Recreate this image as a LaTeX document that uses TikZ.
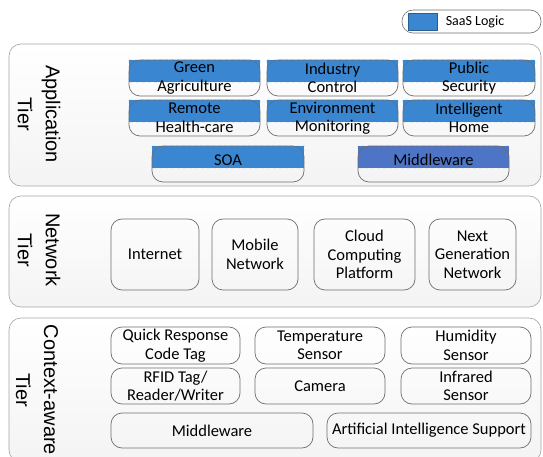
\documentclass[tikz,border=0pt]{standalone}
\usepackage{fontspec}
\setmainfont{Carlito}
\newfontfamily\tierfont{Liberation Sans}
\usepackage{tikz}
\usetikzlibrary{positioning}
\usetikzlibrary{backgrounds}
\definecolor{saasblue}{RGB}{58,134,208}
\definecolor{mwblue}{RGB}{78,116,198}
\definecolor{boxgray}{RGB}{110,110,110}
\definecolor{tiergray}{RGB}{165,165,165}

\begin{document}
\begin{tikzpicture}[x=1pt, y=-1pt, thick,
    tier/.style = {draw=tiergray, semithick, rounded corners=12pt, minimum width=532pt, top color=white, bottom color=gray!9},
    tierlabel/.style = {rotate=-90, align=center, font=\tierfont\fontsize{20}{28}\selectfont},
    cellfont/.style = {font=\fontsize{16.5}{18.5}\selectfont},
    cell/.style = {draw=boxgray, line width=0.7pt, rounded corners=11pt, align=center, inner sep=1pt, cellfont},
    saasfill/.style = {fill=saasblue, draw=white!85!saasblue, dashed, semithick}]
            \clip (0,0) rectangle (543,457);
            % Tiers
            \begin{scope}[on background layer]
            \node[tier, minimum height=142pt] (app) at (275,115) {};
            \node[tier, minimum height=111pt] (net) at (275,251.5) {};
            \node[tier, minimum height=144pt] (ctx) at (275,390) {};
            \end{scope}
            \node[tierlabel] (applbl) at (39,114) {Application\\Tier};
            \node[tierlabel] (netlbl) at (39,250) {Network\\Tier};
            \node[tierlabel] (ctxlbl) at (37,390) {Context-aware\\Tier};
            % Legend
            \node[draw=boxgray, semithick, rounded corners=11pt, minimum width=139pt, minimum height=23pt] (legend) at (471.5,21.5) {};
            \node[draw=saasblue!70!black, fill=saasblue, minimum width=29pt, minimum height=17pt, inner sep=0pt] (key) at (422.5,21.5) {};
            \node[font=\fontsize{14}{16}\selectfont, inner sep=0pt, right=8pt of key] (keytxt) {SaaS Logic};
            % Application tier
            \node[cell, minimum width=131pt, minimum height=36pt] (green) at (194.5,78) {Green\\Agriculture};
            \node[cell, minimum width=131pt, minimum height=36pt] (industry) at (332.5,78) {Industry\\Control};
            \node[cell, minimum width=132pt, minimum height=36pt] (public) at (469,78) {Public\\Security};
            \node[cell, minimum width=131pt, minimum height=36pt] (remote) at (194.5,118) {Remote\\Health-care};
            \node[cell, minimum width=131pt, minimum height=36pt] (environ) at (332.5,118) {Environment\\Monitoring};
            \node[cell, minimum width=132pt, minimum height=36pt] (intel) at (469,118) {Intelligent\\Home};
            \node[cell, minimum width=152pt, minimum height=36pt, label={[cellfont, yshift=4pt]center:SOA}] (soa) at (228,164) {};
            \node[cell, minimum width=151pt, minimum height=36pt, label={[cellfont, yshift=4pt]center:Middleware}] (appmw) at (433.5,164) {};
            \begin{scope}[on background layer]
            \foreach \c in {green,industry,public,remote,environ,intel,soa}
                \draw[saasfill] (\c.north west) rectangle ([yshift=-4.5pt]\c.east);
            \draw[saasfill, fill=mwblue] (appmw.north west) rectangle ([yshift=-4.5pt]appmw.east);
            \end{scope}
            % Network tier
            \node[cell, minimum width=88pt, minimum height=71pt] (internet) at (155,254.5) {Internet};
            \node[cell, minimum width=86pt, minimum height=71pt] (mobile) at (255,254.5) {Mobile\\Network};
            \node[cell, minimum width=101pt, minimum height=71pt] (cloud) at (364.5,254.5) {Cloud\\Computing\\Platform};
            \node[cell, minimum width=87pt, minimum height=71pt] (nextgen) at (472.5,254.5) {Next\\Generation\\Network};
            % Context-aware tier
            \node[cell, minimum width=129pt, minimum height=37pt] (qrcode) at (175.5,345.5) {Quick Response\\Code Tag};
            \node[cell, minimum width=130pt, minimum height=37pt] (temp) at (320,345.5) {Temperature\\Sensor};
            \node[cell, minimum width=130pt, minimum height=37pt] (humid) at (466,345.5) {Humidity\\Sensor};
            \node[cell, minimum width=129pt, minimum height=36pt] (rfid) at (175.5,386) {RFID Tag/\\Reader/Writer};
            \node[cell, minimum width=130pt, minimum height=36pt] (camera) at (320,386) {Camera};
            \node[cell, minimum width=130pt, minimum height=36pt] (infra) at (466,386) {Infrared\\Sensor};
            \node[cell, minimum width=202pt, minimum height=35pt] (ctxmw) at (212,430.5) {Middleware};
            \node[cell, minimum width=204pt, minimum height=35pt] (aisup) at (429,430.5) {Artificial Intelligence Support};
\end{tikzpicture}
\end{document}
